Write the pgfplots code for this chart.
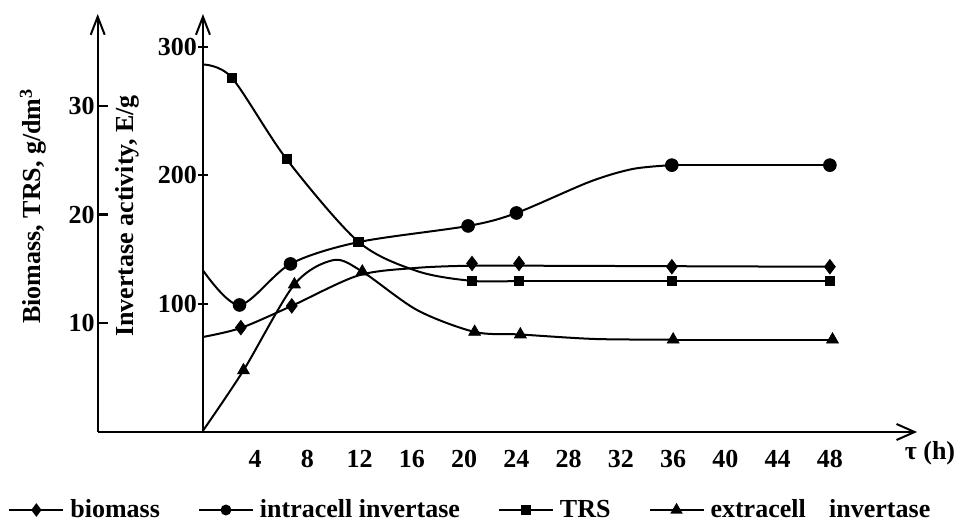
\documentclass[border=0pt]{standalone}
\usepackage{fontspec}
\setmainfont{Liberation Serif}
\usepackage{pgfplots}
\pgfplotsset{compat=1.18}
\usetikzlibrary{arrows.meta}

\newcommand{\lbl}{\bfseries\fontsize{13}{15}\selectfont}

\pgfplotsset{
  common/.style={
    scale only axis, width=409.65pt, height=209pt,
    xmin=-8.06, xmax=54.67,
    at={(0,0)}, anchor=south west,
    every tick label/.append style={font=\lbl},
    /pgf/number format/assume math mode=true,
    axis line style={line width=1.1pt, black},
    tick style={line width=1.1pt, black},
    major tick length=5pt,
    clip=false,
  },
  ln/.style={black, line width=1pt, no markers},
  mk/.style={black, only marks, forget plot},
}

\begin{document}
\begin{tikzpicture}
\useasboundingbox (-48.85pt,-48.5pt) rectangle (432.65pt,216pt);

% outer axis: biomass, TRS (g/dm3)
\begin{axis}[common,
  ymin=0, ymax=38.45,
  axis y line=left, axis x line=none,
  y axis line style={-{Straight Barb[length=9pt,width=7pt,line width=1pt]}},
  ytick={10,20,30}, xtick=\empty,
  tick align=inside,
  yticklabel style={xshift=2pt},
]
% biomass
\addplot[ln, smooth, forget plot] coordinates {(0,8.74) (2.9,9.57) (6.8,11.6) (11.9,14.4) (16.4,15.1) (20.6,15.3) (24.2,15.3)};
\addplot[ln, forget plot] coordinates {(24.2,15.3) (48,15.2)};
\addplot[mk, mark=diamond*, mark size=3.6pt] coordinates {(2.9,9.6) (6.8,11.6) (20.6,15.5) (24.2,15.5) (35.9,15.2) (48,15.2)};
% TRS
\addplot[ln, smooth, forget plot] coordinates {(0,33.8) (2.2,32.6) (6.4,25.1) (11.9,17.5) (16.4,14.8) (20.6,13.9) (24.2,13.9)};
\addplot[ln, forget plot] coordinates {(24.2,13.9) (48,13.9)};
\addplot[mk, mark=square*, mark size=2.3pt] coordinates {(2.2,32.6) (6.4,25.1) (11.9,17.5) (20.6,13.9) (24.2,13.9) (35.9,13.9) (48,13.9)};
\end{axis}

% inner axis: invertase activity (E/g)
\begin{axis}[common,
  ymin=0, ymax=325.8,
  axis y line=middle, axis x line=bottom,
  x axis line style={-{Straight Barb[length=9pt,width=8pt,line width=1pt]}},
  y axis line style={-{Straight Barb[length=9pt,width=7pt,line width=1pt]}},
  xtick={4,8,...,48}, ytick={100,200,300},
  x tick style={draw=none},
  tick align=center,
  xticklabel style={yshift=-3pt},
  yticklabel style={xshift=3pt},
  legend columns=4,
  legend cell align=left,
  legend style={draw=none, fill=none, font=\lbl, inner sep=0pt,
    at={(rel axis cs:-0.1095,-0.1866)}, anchor=west,
    /tikz/every odd column/.append style={column sep=1pt},
    /tikz/every even column/.append style={column sep=17pt}},
  legend image code/.code={\draw[#1, mark repeat=2, mark phase=2] plot coordinates {(0pt,0pt) (13.5pt,0pt) (27pt,0pt)};},
]
\addlegendimage{black, line width=1pt, mark=diamond*, mark size=2.6pt}
\addlegendentry{biomass}
\addlegendimage{black, line width=1pt, mark=*, mark size=2.2pt}
\addlegendentry{intracell invertase}
\addlegendimage{black, line width=1pt, mark=square*, mark size=1.8pt}
\addlegendentry{TRS}
\addlegendimage{black, line width=1pt, mark=triangle*, mark size=2.6pt}
\addlegendentry{extracell\hspace{0.9em}invertase}

% intracell invertase
\addplot[ln, smooth, forget plot] coordinates {(0,126) (2.8,99) (6.7,131) (11.9,148) (20.3,160.6) (24,170.7) (29.6,195) (32.9,205) (35.9,208)};
\addplot[ln, forget plot] coordinates {(35.9,208) (48,208)};
\addplot[mk, mark=*, mark size=3.2pt] coordinates {(2.8,99) (6.7,131) (20.3,160.6) (24,170.7) (35.9,208) (48,208)};
% extracell invertase
\addplot[ln, smooth, forget plot] coordinates {(0,1) (3.1,48) (7,115) (10,134) (12.2,125) (16.4,95) (20.8,78) (24.3,76) (30,72.5) (36,72)};
\addplot[ln, forget plot] coordinates {(36,72) (48.2,72)};
\addplot[mk, mark=triangle*, mark size=3.4pt] coordinates {(3.1,48) (7,115) (12.2,125) (20.8,78) (24.3,76) (36,72) (48.2,72)};
\end{axis}

\node[rotate=90, font=\lbl] at (-32.35pt,113pt) {Biomass, TRS, g/dm\textsuperscript{3}};
\node[rotate=90, font=\lbl] at (14.65pt,108pt) {Invertase activity, E/g};
\node[font=\lbl] at (416.15pt,-10.5pt) {τ (h)};
\end{tikzpicture}
\end{document}
